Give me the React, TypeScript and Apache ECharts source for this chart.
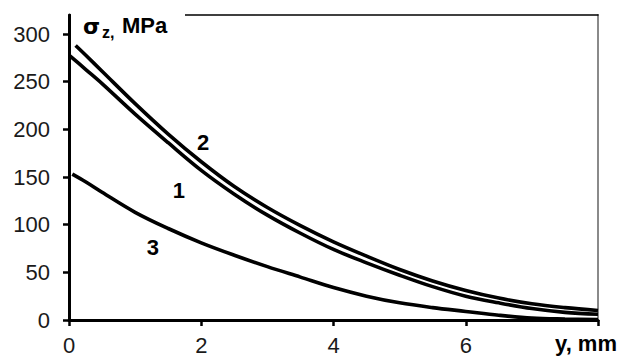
import React, { useEffect, useRef } from "react";
import * as echarts from "echarts";

// Depth y, mm and stress sigma_z, MPa
const X1 = [0, 0.25, 0.5, 1, 1.5, 2, 2.5, 3, 3.5, 4, 4.5, 5, 5.5, 6, 6.5, 7, 7.5, 8];
const S1 = [278, 263, 248, 216, 186, 157, 132, 110, 91, 74, 60, 47, 35, 25, 18, 12, 8, 6];

const X2 = [0.1, 0.25, 0.5, 1, 1.5, 2, 2.5, 3, 3.5, 4, 4.5, 5, 5.5, 6, 6.5, 7, 7.5, 8];
const S2 = [288, 278, 261, 227, 195, 166, 140, 118, 99, 82, 67, 53, 41, 31, 23, 17, 13, 10];

const X3 = [0.05, 0.25, 0.5, 1, 1.5, 2, 2.5, 3, 3.5, 4, 4.5, 5, 5.5, 6, 6.5, 7, 7.5, 8];
const S3 = [153, 145, 134, 113, 96, 81, 68, 56, 45, 34, 25, 18, 13, 9, 5, 2, 1, 0.5];

const CURVE_NAMES = ["1", "2", "3"];
const LABEL_X = [1.66, 2.03, 1.27];
const LABEL_Y = [136, 186, 76];

const X_TICKS = [0, 2, 4, 6, 8];
const X_LABELS = [0, 2, 4, 6];
const Y_TICKS = [0, 50, 100, 150, 200, 250, 300];

const FONT = "'Liberation Sans', Arial, sans-serif";

export default function App() {
  const ref = useRef<HTMLDivElement>(null);
  useEffect(() => {
    document.body.style.margin = "0";
    const chart = echarts.init(ref.current!, null, { renderer: "svg" });
    const pairs = (xs: number[], ys: number[]) => xs.map((x, i) => [x, ys[i]]);
    const seriesData = [pairs(X1, S1), pairs(X2, S2), pairs(X3, S3)];
    chart.setOption({
      animation: false,
      backgroundColor: "#fff",
      grid: { left: 69, right: 21, top: 15, bottom: 36, containLabel: false },
      xAxis: [
        {
          type: "value",
          min: 0,
          max: 8,
          interval: 2,
          axisLine: { show: true, lineStyle: { color: "#000", width: 3 } },
          axisTick: { show: true, customValues: X_TICKS, length: 6, inside: false, lineStyle: { color: "#000", width: 2.5 } },
          axisLabel: { customValues: X_LABELS, margin: 14, fontSize: 22, color: "#1a1a1a", fontFamily: FONT },
          splitLine: { show: false },
        },
        {
          type: "value",
          position: "top",
          min: 0,
          max: 8,
          axisLine: { show: true, onZero: false, lineStyle: { color: "#000", width: 1.5 } },
          axisTick: { show: false },
          axisLabel: { show: false },
          splitLine: { show: false },
        },
      ],
      yAxis: [
        {
          type: "value",
          min: 0,
          max: 320,
          interval: 50,
          axisLine: { show: true, lineStyle: { color: "#000", width: 3 } },
          axisTick: { show: true, customValues: Y_TICKS, length: 6, inside: false, lineStyle: { color: "#000", width: 2.5 } },
          axisLabel: { customValues: Y_TICKS, margin: 19, fontSize: 22, color: "#1a1a1a", fontFamily: FONT },
          splitLine: { show: false },
        },
        {
          type: "value",
          position: "right",
          min: 0,
          max: 320,
          axisLine: { show: true, onZero: false, lineStyle: { color: "#8a8a8a", width: 2 } },
          axisTick: { show: false },
          axisLabel: { show: false },
          splitLine: { show: false },
        },
      ],
      series: seriesData.map((d, i) => ({
        type: "line",
        name: CURVE_NAMES[i],
        xAxisIndex: 0,
        yAxisIndex: 0,
        data: d,
        smooth: 0.35,
        showSymbol: false,
        symbol: "none",
        lineStyle: { color: "#000", width: 3.6 },
        markPoint: {
          symbol: "rect",
          symbolSize: 1,
          itemStyle: { color: "rgba(0,0,0,0)" },
          label: {
            show: true,
            position: "inside",
            formatter: CURVE_NAMES[i],
            fontSize: 22,
            fontWeight: "bold",
            color: "#000",
            fontFamily: FONT,
          },
          data: [{ coord: [LABEL_X[i], LABEL_Y[i]] }],
        },
      })),
      graphic: [
        {
          type: "rect",
          z: 100,
          shape: { x: 71, y: 6, width: 114, height: 18 },
          style: { fill: "#fff" },
        },
        {
          type: "text",
          z: 101,
          x: 83,
          y: 26,
          style: { text: "σ", font: `bold 22px 'DejaVu Sans', sans-serif`, fill: "#000", verticalAlign: "middle", align: "left" },
        },
        {
          type: "text",
          z: 101,
          x: 102,
          y: 32,
          style: { text: "z,", font: `bold 16px ${FONT}`, fill: "#000", verticalAlign: "middle", align: "left" },
        },
        {
          type: "text",
          z: 101,
          x: 122,
          y: 25.5,
          style: { text: "MPa", font: `bold 22px ${FONT}`, fill: "#000", verticalAlign: "middle", align: "left" },
        },
        {
          type: "text",
          z: 101,
          x: 617,
          y: 343.5,
          style: { text: "y, mm", font: `bold 22px ${FONT}`, fill: "#000", verticalAlign: "middle", align: "right" },
        },
      ],
    });
    return () => chart.dispose();
  }, []);
  return <div ref={ref} style={{ width: 619, height: 356 }} />;
}
